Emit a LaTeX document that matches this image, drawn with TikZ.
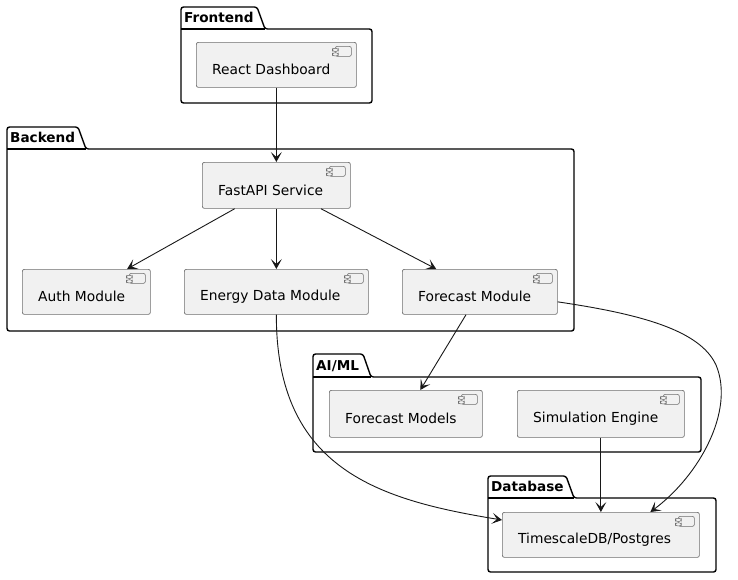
\documentclass[tikz,border=0pt]{standalone}
\usepackage{fontspec}
\setmainfont{DejaVu Sans}
\usetikzlibrary{arrows.meta,calc}
\definecolor{compfill}{HTML}{F1F1F1}
\definecolor{ink}{HTML}{181818}
\definecolor{compline}{HTML}{6E6E6E}
\tikzset{
  pkg/.style={draw=black, line width=1.4pt, rounded corners=2.5pt},
  pkglabel/.style={anchor=base west, inner sep=0pt, font=\fontsize{13.6}{16}\selectfont\bfseries},
  comp/.style={draw=compline, line width=0.7pt, fill=compfill, rounded corners=2pt,
    anchor=north west, inner sep=0pt, minimum height=#1,
    path picture={
      \coordinate (ne) at (path picture bounding box.north east);
      \draw[compline, line width=0.6pt, fill=compfill] ($(ne)+(-21pt,-4pt)$) rectangle ($(ne)+(-5pt,-14pt)$);
      \draw[compline, line width=0.6pt, fill=compfill] ($(ne)+(-24pt,-6pt)$) rectangle ($(ne)+(-18pt,-9pt)$);
      \draw[compline, line width=0.6pt, fill=compfill] ($(ne)+(-24pt,-10.5pt)$) rectangle ($(ne)+(-18pt,-13.5pt)$);
    }},
  comp/.default=45pt,
  ctext/.style={anchor=west, inner sep=0pt, xshift=16pt, yshift=-4.5pt, font=\fontsize{13.8}{16}\selectfont},
  arr/.style={draw=ink, line width=0.9pt, -{Stealth[length=10pt,width=11pt,inset=5pt]}}
}
\begin{document}
\begin{tikzpicture}[x=1pt,y=-1pt]
\useasboundingbox (0,0) rectangle (738,579);

% ---- packages ----
% Frontend
\draw[pkg] (181,29) -- (181,7) -- (257,7) -- (265,29) -- (372,29) -- (372,103) -- (181,103) -- cycle;
\draw[line width=1.4pt] (181,29) -- (265,29);
\node[pkglabel] (pfront) at (184,22) {Frontend};
% Backend
\draw[pkg] (7,149) -- (7,127) -- (78,127) -- (86,149) -- (574,149) -- (574,331) -- (7,331) -- cycle;
\draw[line width=1.4pt] (7,149) -- (86,149);
\node[pkglabel] (pback) at (10,142) {Backend};
% AI/ML
\draw[pkg] (313,377) -- (313,354) -- (363,354) -- (371,377) -- (701,377) -- (701,452) -- (313,452) -- cycle;
\draw[line width=1.4pt] (313,377) -- (371,377);
\node[pkglabel] (paiml) at (316,370) {AI/ML};
% Database
\draw[pkg] (488,498) -- (488,476) -- (566,476) -- (574,498) -- (716,498) -- (716,572) -- (488,572) -- cycle;
\draw[line width=1.4pt] (488,498) -- (574,498);
\node[pkglabel] (pdb) at (491,491) {Database};

% ---- components ----
\node[comp, minimum width=160pt, label={[ctext]west:React Dashboard}] (react) at (196,42) {};
\node[comp=46pt, minimum width=148pt, label={[ctext]west:FastAPI Service}] (fastapi) at (202,162) {};
\node[comp, minimum width=128pt, label={[ctext]west:Auth Module}] (auth) at (22,269) {};
\node[comp, minimum width=184pt, label={[ctext]west:Energy Data Module}] (energy) at (184,269) {};
\node[comp, minimum width=155pt, label={[ctext]west:Forecast Module}] (fmod) at (402,269) {};
\node[comp=47pt, minimum width=153pt, label={[ctext]west:Forecast Models}] (fmodels) at (329,390) {};
\node[comp=47pt, minimum width=167pt, label={[ctext]west:Simulation Engine}] (sim) at (517,390) {};
\node[comp, minimum width=197pt, label={[ctext]west:TimescaleDB/Postgres}] (db) at (502,512) {};

% ---- connectors ----
\draw[arr] (react) -- (fastapi);
\draw[arr] (fastapi) -- (auth);
\draw[arr] (fastapi) -- (energy);
\draw[arr] (fastapi) -- (fmod);
\draw[arr] (fmod) -- (fmodels);
\draw[arr] (sim) -- (db);
\draw[arr] (energy.south) .. controls (276,470) and (380,500) .. ($(db.north west)+(0,8)$);
\draw[draw=ink, line width=0.9pt] ($(fmod.east)+(0,10)$) .. controls (640,314) and (700,330) .. (716,365);
\draw[arr] (716,365) .. controls (735,410) and (700,475) .. ($(db.north)+(49.5,0)$);
\end{tikzpicture}
\end{document}
